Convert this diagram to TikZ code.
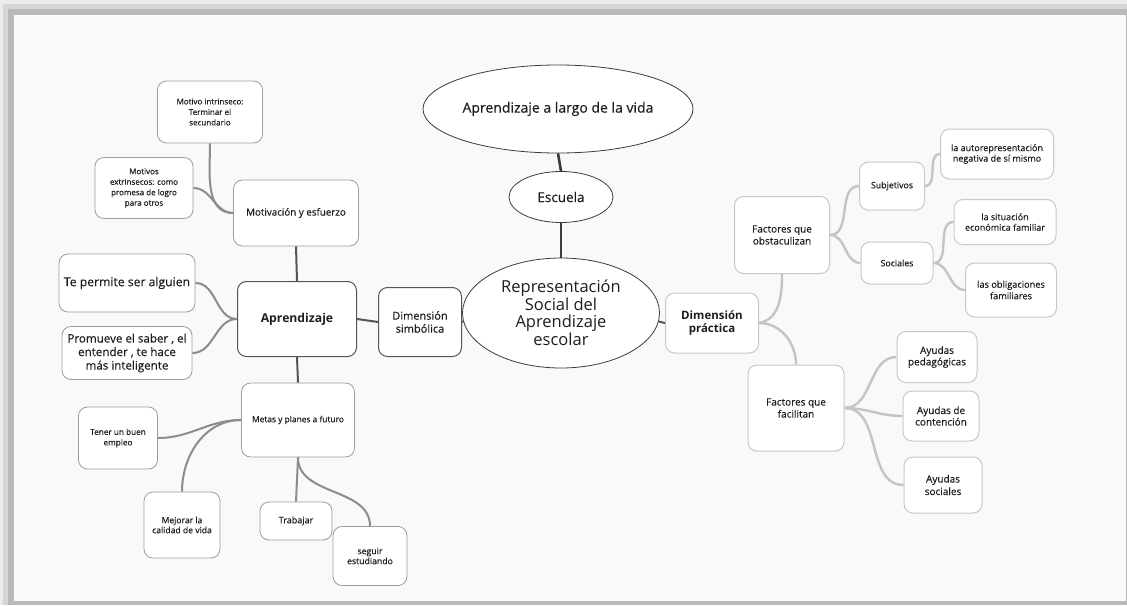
\documentclass[tikz,border=0pt]{standalone}
\usepackage{fontspec}
\setmainfont{Open Sans}[UprightFeatures={FakeBold=0.35}]
\newfontfamily\plainfont{Open Sans}
\usetikzlibrary{shapes.geometric}
\definecolor{pagebg}{HTML}{F9F9F9}
\definecolor{outerA}{HTML}{EBEBEB}
\definecolor{outerB}{HTML}{D6D6D6}
\definecolor{frameC}{HTML}{B9B9B9}
\definecolor{boxline}{HTML}{9D9D9D}
\definecolor{boxlight}{HTML}{C8C8C8}
\definecolor{linkmid}{HTML}{8C8C8C}
\definecolor{linkdark}{HTML}{555555}
\definecolor{linktop}{HTML}{3C3C3C}
\definecolor{linklight}{HTML}{C4C4C4}
\definecolor{inktext}{HTML}{1E1E1E}
\begin{document}
\begin{tikzpicture}[x=1pt,y=1pt,
  card/.style={rectangle,rounded corners=9pt,draw=boxline,line width=0.8pt,fill=white,
    text=inktext,align=center,inner sep=0pt,font=\fontsize{8}{10.5}\selectfont},
  cardlight/.style={card,draw=boxlight,line width=1pt},
  bigcard/.style={card,font=\fontsize{11.6}{13.5}\selectfont},
  oval/.style={ellipse,draw=linktop,line width=0.8pt,fill=white,text=inktext,align=center,inner sep=0pt},
  leftlink/.style={draw=linkmid,line width=2pt},
  stemlink/.style={draw=linkdark,line width=2pt},
  toplink/.style={draw=linktop,line width=2.6pt},
  rightlink/.style={draw=linklight,line width=2.4pt}]
\useasboundingbox (0,0) rectangle (1127,-605);
% page frame
\fill[outerA] (0,0) rectangle (1127,-605);
\fill[outerB] (3,-4) rectangle (1127,-605);
\fill[frameC] (8,-9) rectangle (1127,-605);
\fill[pagebg] (14,-15) rectangle (1126,-601);

% centre and top
\node[oval,minimum width=270,minimum height=88,font=\fontsize{14}{16}\selectfont] (vida) at (558,-109) {Aprendizaje a largo de la vida};
\node[oval,minimum width=104,minimum height=51,font=\fontsize{13.5}{15}\selectfont] (esc) at (561,-197) {Escuela};
\node[oval,minimum width=197,minimum height=110,font=\plainfont\fontsize{16.5}{17.5}\selectfont] (rep) at (561,-313) {Representación\\Social del\\Aprendizaje\\escolar};

% left branch
\node[card,draw=linkdark,line width=1pt,minimum width=83,minimum height=69,font=\fontsize{11}{13}\selectfont] (dsim) at (420,-322) {Dimensión\\simbólica};
\node[card,draw=linkdark,line width=1pt,minimum width=119,minimum height=75,font=\bfseries\fontsize{12.2}{14}\selectfont] (apr) at (297,-319) {Aprendizaje};
\node[card,minimum width=125,minimum height=66,font=\fontsize{9.8}{12}\selectfont] (mot) at (296,-213) {Motivación y esfuerzo};
\node[card,minimum width=105,minimum height=62] (mint) at (210,-112) {Motivo intrinseco:\\Terminar el\\secundario};
\node[card,minimum width=98,minimum height=61] (mext) at (144,-188) {Motivos\\extrinsecos: como\\promesa de logro\\para otros};
\node[bigcard,minimum width=136,minimum height=58,font=\fontsize{12.2}{14}\selectfont] (alg) at (127,-283) {Te permite ser alguien};
\node[bigcard,minimum width=130,minimum height=53] (sab) at (127,-353) {Promueve el saber , el\\entender , te hace\\más inteligente};
\node[card,minimum width=113,minimum height=74,font=\fontsize{8.4}{10.5}\selectfont] (met) at (298,-420) {Metas y planes a futuro};
\node[card,minimum width=79,minimum height=62,font=\fontsize{8.2}{10.5}\selectfont] (emp) at (118,-438) {Tener un buen\\empleo};
\node[card,minimum width=76,minimum height=66,font=\fontsize{8.6}{10}\selectfont] (cal) at (182,-525) {Mejorar la\\calidad de vida};
\node[card,minimum width=72,minimum height=38,font=\fontsize{9}{11}\selectfont] (trab) at (296,-521) {Trabajar};
\node[card,minimum width=74,minimum height=59,font=\fontsize{8.7}{10}\selectfont] (seg) at (370,-556) {seguir\\estudiando};

% right branch
\node[cardlight,minimum width=93,minimum height=60,font=\bfseries\fontsize{11.5}{13.5}\selectfont] (dpra) at (712,-323) {Dimensión\\práctica};
\node[cardlight,minimum width=95,minimum height=77,font=\fontsize{10}{12}\selectfont] (obs) at (782,-235) {Factores que\\obstaculizan};
\node[cardlight,minimum width=65,minimum height=48,font=\fontsize{8.8}{11}\selectfont] (subj) at (892,-186) {Subjetivos};
\node[cardlight,minimum width=72,minimum height=42,font=\fontsize{8.8}{11}\selectfont] (soc) at (897,-263) {Sociales};
\node[cardlight,minimum width=113,minimum height=50,font=\fontsize{9}{10.5}\selectfont] (auto) at (997,-154) {la autorepresentación\\negativa de sí mismo};
\node[cardlight,minimum width=102,minimum height=45,font=\fontsize{9}{10.5}\selectfont] (econ) at (1005,-222) {la situación\\económica familiar};
\node[cardlight,minimum width=91,minimum height=54,font=\fontsize{9.2}{11.5}\selectfont] (obl) at (1011,-290) {las obligaciones\\familiares};
\node[cardlight,minimum width=96,minimum height=86,font=\fontsize{10}{12}\selectfont] (fac) at (796,-408) {Factores que\\facilitan};
\node[cardlight,minimum width=80,minimum height=51,font=\fontsize{10}{11.5}\selectfont] (ped) at (937,-357) {Ayudas\\pedagógicas};
\node[cardlight,minimum width=76,minimum height=50,font=\fontsize{10}{11.5}\selectfont] (cont) at (941,-416) {Ayudas de\\contención};
\node[cardlight,minimum width=78,minimum height=56,font=\fontsize{10}{12.5}\selectfont] (asoc) at (943,-485) {Ayudas\\sociales};

% connectors: trunk
\path[toplink] (vida.south) -- (esc.north);
\path[toplink] (esc.south) -- (rep.north);
\path[stemlink] (rep.185) -- (dsim.east);
\path[stemlink] (dsim.west) -- (apr.east);
\path[stemlink] (mot.south) -- (apr.north);
\path[stemlink] (apr.south) -- (met.north);
\path[stemlink] (rep.-5) -- (dpra.west);

% connectors: left leaves
\path[leftlink] (mint.south) to[out=-90,in=180] (mot.west);
\path[leftlink] (mext.east) to[out=0,in=180] (mot.west);
\path[leftlink] (alg.east) to[out=0,in=180] (apr.west);
\path[leftlink] (sab.east) to[out=0,in=180] (apr.west);
\path[leftlink] (emp.east) to[out=0,in=180] (met.west);
\path[leftlink] (cal.north) to[out=90,in=180] (met.west);
\path[leftlink] (met.south) -- (trab.north);
\path[leftlink] (met.south) to[out=-90,in=90] (seg.north);

% connectors: right leaves
\path[rightlink] (dpra.east) to[out=10,in=-90] (obs.south);
\path[rightlink] (dpra.east) to[out=0,in=90] (fac.north);
\path[rightlink] (obs.east) to[out=0,in=180] (subj.west);
\path[rightlink] (obs.east) to[out=0,in=180] (soc.west);
\path[rightlink] (subj.east) to[out=0,in=180] (auto.west);
\path[rightlink] (soc.east) to[out=0,in=180] (econ.west);
\path[rightlink] (soc.east) to[out=0,in=180] (obl.west);
\path[rightlink] (fac.east) to[out=0,in=180] (ped.west);
\path[rightlink] (fac.east) to[out=0,in=180] (cont.west);
\path[rightlink] (fac.east) to[out=0,in=180] (asoc.west);
\end{tikzpicture}
\end{document}
